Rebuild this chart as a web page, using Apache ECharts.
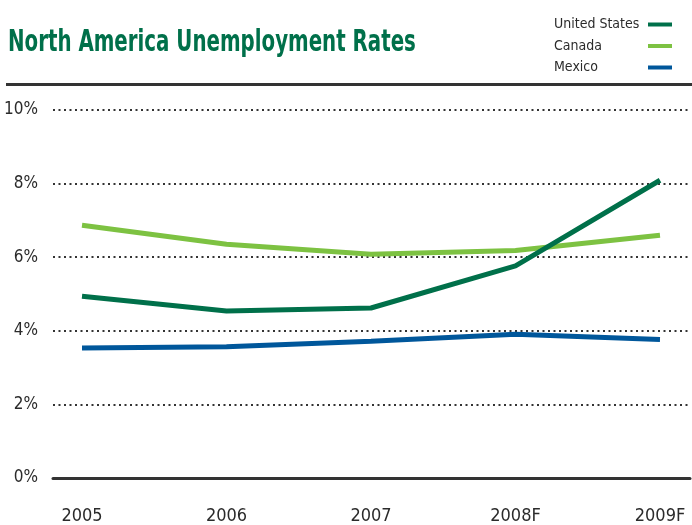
<!DOCTYPE html>
<html>
<head>
<meta charset="utf-8">
<script src="https://cdn.jsdelivr.net/npm/echarts@6/dist/echarts.min.js"></script>
<style>
html,body{margin:0;padding:0;background:#fff;}
#chart{width:692px;height:525px;}
</style>
</head>
<body>
<div id="chart"></div>
<script>
var categories = ['2005', '2006', '2007', '2008F', '2009F'];
var unitedStates = [4.91, 4.51, 4.59, 5.74, 8.08];
var canada = [6.85, 6.33, 6.06, 6.16, 6.58];
var mexico = [3.50, 3.53, 3.68, 3.87, 3.73];
var yTicks = [0, 2, 4, 6, 8, 10];
var seriesNames = ['United States', 'Canada', 'Mexico'];
var titleText = 'North America Unemployment Rates';

var FONT = '"DejaVu Sans Condensed", "DejaVu Sans", sans-serif';
var TEXT = '#2b2b2b';
var C_US = '#00704A';
var C_CA = '#7DC242';
var C_MX = '#00579B';

var chart = echarts.init(document.getElementById('chart'), null, {renderer: 'canvas'});
var option = {
  animation: false,
  backgroundColor: '#fff',
  textStyle: {fontFamily: FONT},
  legend: {
    orient: 'vertical',
    left: 549, top: 11,
    align: 'right',
    icon: 'rect',
    itemWidth: 24, itemHeight: 4,
    itemGap: 4.5,
    formatter: function (name) { return '{a|' + name + '}'; },
    textStyle: {
      fontFamily: FONT, fontSize: 14, color: TEXT, lineHeight: 17,
      rich: {a: {fontFamily: FONT, fontSize: 14, color: TEXT, width: 89, align: 'left', lineHeight: 17}}
    },
    data: seriesNames
  },
  graphic: [
    {
      type: 'rect',
      shape: {x: 6, y: 83, width: 686, height: 3},
      style: {fill: '#333'}
    },
    {
      type: 'text',
      x: 8, y: 27,
      scaleX: 0.71,
      style: {
        text: titleText,
        fontFamily: FONT, fontWeight: 'bold', fontSize: 31,
        fill: C_US, verticalAlign: 'top', align: 'left'
      }
    }
  ],
  grid: [
    {left: 82, right: 32, top: 110, bottom: 47},
    {left: 53, right: 2, top: 110, bottom: 47}
  ],
  xAxis: [
    {
      gridIndex: 0, type: 'category', data: categories, boundaryGap: false,
      axisLine: {show: false}, axisTick: {show: false},
      axisLabel: {fontFamily: FONT, fontSize: 18, color: TEXT, margin: 31}
    },
    {
      gridIndex: 1, type: 'category', data: categories, boundaryGap: false,
      axisLine: {show: true, lineStyle: {color: '#333', width: 3}},
      axisTick: {show: false}, axisLabel: {show: false}
    }
  ],
  yAxis: [
    {
      gridIndex: 0, type: 'value', min: 0, max: 10, interval: 2,
      axisLine: {show: false}, axisTick: {show: false}, axisLabel: {show: false},
      splitLine: {show: false}
    },
    {
      gridIndex: 1, type: 'value', min: yTicks[0], max: yTicks[yTicks.length - 1], interval: 2,
      axisLine: {show: false}, axisTick: {show: false},
      axisLabel: {fontFamily: FONT, fontSize: 17, color: TEXT, margin: 15, formatter: '{value}%'},
      splitLine: {show: true, lineStyle: {color: '#333', width: 2, type: [2, 3.5]}}
    }
  ],
  series: [
    {name: seriesNames[0], type: 'line', xAxisIndex: 0, yAxisIndex: 0, data: unitedStates,
     symbol: 'none', lineStyle: {color: C_US, width: 5}, itemStyle: {color: C_US}, z: 4},
    {name: seriesNames[1], type: 'line', xAxisIndex: 0, yAxisIndex: 0, data: canada,
     symbol: 'none', lineStyle: {color: C_CA, width: 5}, itemStyle: {color: C_CA}, z: 3},
    {name: seriesNames[2], type: 'line', xAxisIndex: 0, yAxisIndex: 0, data: mexico,
     symbol: 'none', lineStyle: {color: C_MX, width: 5}, itemStyle: {color: C_MX}, z: 3}
  ]
};
chart.setOption(option);
</script>
</body>
</html>
